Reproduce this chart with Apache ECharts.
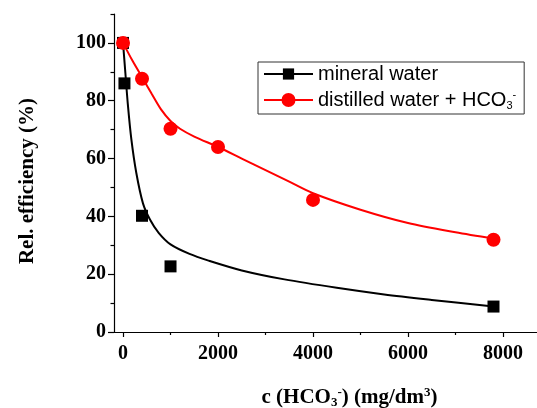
<!DOCTYPE html>
<html><head><meta charset="utf-8">
<script src="https://cdn.jsdelivr.net/npm/echarts@6/dist/echarts.min.js"></script>
<style>html,body{margin:0;padding:0;background:#fff}#c{width:537px;height:408px}</style>
</head><body><div id="c"></div>
<script>
// measured points
const mineralX = [0, 30, 400, 1000, 7800];
const mineralY = [100, 86, 40.2, 22.7, 8.8];
const distilledX = [0, 400, 1000, 2000, 4000, 7800];
const distilledY = [100, 87.6, 70.3, 64.0, 45.7, 31.9];
// fitted curves
const mineralFitX = [0, 50, 100, 175, 280, 420, 570, 750, 1000, 1400, 1800, 2500, 3400, 4500, 5500, 6500, 7800];
const mineralFitY = [100, 89.5, 79, 66.7, 55, 44.5, 38.8, 34.3, 30.3, 27.0, 24.7, 21.3, 18.2, 15.3, 13.0, 11.1, 8.8];
const distilledFitX = [0, 200, 421, 600, 800, 1000, 1200, 1500, 2000, 2500, 3000, 3500, 4000, 5000, 6000, 7000, 7800];
const distilledFitY = [100, 93.8, 87.6, 82.5, 77.0, 73.0, 70.3, 67.6, 64.0, 60.0, 56.0, 52.0, 48.0, 42.3, 37.7, 34.5, 32.3];
// ticks
const xTicks = [0, 2000, 4000, 6000, 8000];
const xMinorTicks = [1000, 3000, 5000, 7000];
const yTicks = [0, 20, 40, 60, 80, 100];
const yMinorTicks = [10, 30, 50, 70, 90, 110];
const seriesNames = ['mineral water', 'distilled water + HCO3-'];

const zip = (a, b) => a.map((v, i) => [v, b[i]]);
const serif = 'Liberation Serif';
const sans = 'Liberation Sans';

const chart = echarts.init(document.getElementById('c'));
chart.setOption({
  animation: false,
  backgroundColor: '#fff',
  grid: { left: 114, right: 0, top: 14, bottom: 76, containLabel: false, outerBoundsMode: 'none' },
  legend: {
    data: [
      { name: seriesNames[0] },
      { name: seriesNames[1], icon: 'path://M0,6H49V8H0Z M17.5,7A7,7,0,1,1,31.5,7A7,7,0,1,1,17.5,7Z' }
    ],
    orient: 'vertical',
    left: 258, top: 62,
    itemWidth: 49, itemHeight: 14, itemGap: 5,
    padding: [2, 8, 3, 5],
    borderColor: '#333', borderWidth: 1, backgroundColor: '#fff',
    textStyle: {
      fontFamily: sans, fontSize: 20, color: '#000',
      rich: {
        n: { fontFamily: sans, fontSize: 20, color: '#000', lineHeight: 22 },
        sub: { fontFamily: sans, fontSize: 11, color: '#000', lineHeight: 11, verticalAlign: 'bottom' },
        sup: { fontFamily: sans, fontSize: 11, color: '#000', lineHeight: 11, verticalAlign: 'top' }
      }
    },
    formatter: function (name) {
      if (name === seriesNames[1]) return '{n|distilled water + HCO}{sub|3}{sup|-}';
      return '{n|' + name + '}';
    }
  },
  xAxis: [{
    type: 'value', min: -190, max: 8716, position: 'bottom',
    splitLine: { show: false },
    axisLine: { show: true, onZero: false, lineStyle: { color: '#000', width: 1.2 } },
    axisTick: { show: true, customValues: xTicks, length: 5, lineStyle: { color: '#000', width: 1.2 } },
    axisLabel: { customValues: xTicks, formatter: v => String(v), fontFamily: serif, fontWeight: 'bold', fontSize: 20, color: '#000', margin: 12 },
    name: '{a|c (HCO}{b|3}{c|-}{a|) (mg/dm}{c|3}{a|)}',
    nameLocation: 'middle', nameGap: 54,
    nameTextStyle: {
      padding: [0, 0, 0, 48],
      rich: {
        a: { fontFamily: serif, fontWeight: 'bold', fontSize: 21, color: '#000', lineHeight: 23 },
        b: { fontFamily: serif, fontWeight: 'bold', fontSize: 13, color: '#000', lineHeight: 12, verticalAlign: 'bottom' },
        c: { fontFamily: serif, fontWeight: 'bold', fontSize: 13, color: '#000', lineHeight: 12, verticalAlign: 'top' }
      }
    }
  }, {
    type: 'value', min: -190, max: 8716, position: 'bottom', gridIndex: 0,
    splitLine: { show: false },
    axisLine: { show: false, onZero: false },
    axisTick: { show: true, customValues: xMinorTicks, length: 3, lineStyle: { color: '#000', width: 1.2 } },
    axisLabel: { show: false }
  }],
  yAxis: [{
    type: 'value', min: 0, max: 110,
    splitLine: { show: false },
    axisLine: { show: true, onZero: false, lineStyle: { color: '#000', width: 1.2 } },
    axisTick: { show: true, customValues: yTicks, length: 6, lineStyle: { color: '#000', width: 1.2 } },
    axisLabel: { customValues: yTicks, fontFamily: serif, fontWeight: 'bold', fontSize: 20, color: '#000', margin: 8 },
    name: 'Rel. efficiency (%)', nameLocation: 'middle', nameGap: 76,
    nameTextStyle: { fontFamily: serif, fontWeight: 'bold', fontSize: 21, color: '#000', padding: [0, 16, 0, 0] }
  }, {
    type: 'value', min: 0, max: 110, position: 'left',
    splitLine: { show: false },
    axisLine: { show: false, onZero: false },
    axisTick: { show: true, customValues: yMinorTicks, length: 3.5, lineStyle: { color: '#000', width: 1.2 } },
    axisLabel: { show: false }
  }],
  series: [{
    name: seriesNames[0], type: 'line', data: zip(mineralFitX, mineralFitY),
    smooth: 0.3, showSymbol: false, symbol: 'rect', symbolSize: 12,
    lineStyle: { color: '#000', width: 2 }, itemStyle: { color: '#000' }, z: 2
  }, {
    name: seriesNames[1], type: 'line', data: zip(distilledFitX, distilledFitY),
    smooth: 0.3, showSymbol: false, symbol: 'circle', symbolSize: 14,
    lineStyle: { color: '#ff0000', width: 2 }, itemStyle: { color: '#ff0000' }, z: 2
  }, {
    name: 'mineral points', type: 'scatter', data: zip(mineralX, mineralY),
    symbol: 'rect', symbolSize: 12, itemStyle: { color: '#000', opacity: 1 }, z: 3
  }, {
    name: 'distilled points', type: 'scatter', data: zip(distilledX, distilledY),
    symbol: 'circle', symbolSize: 14, itemStyle: { color: '#ff0000', opacity: 1 }, z: 4
  }]
});
</script>
</body></html>
